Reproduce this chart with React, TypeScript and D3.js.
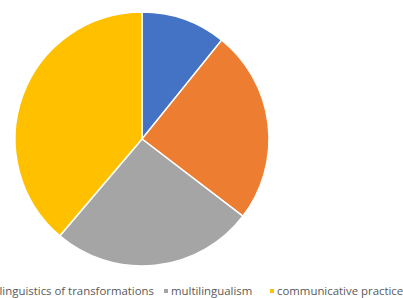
import * as d3 from "d3";
import { useEffect, useRef } from "react";

const categories = ["linguistics of transformations", "multilingualism", "communicative practices", "other"];
const values = [10.8, 24.6, 25.8, 38.8];
const colors = ["#4472C4", "#ED7D31", "#A5A5A5", "#FFC000"];

// legend entries as they appear in the picture (clipped at the edges)
const legendItems = [
	{ label: "linguistics of transformations", color: "#4472C4" },
	{ label: "multilingualism", color: "#A5A5A5" },
	{ label: "communicative practices", color: "#FFC000" }
];

const width = 403;
const height = 298;
const center = { x: 142, y: 139 };
const radius = 127;

const App = () => {
	const chartRef = useRef(null);

	useEffect(() => {
		const svg = d3.select(chartRef.current);
		svg.selectAll("*").remove();

		const pie = d3.pie<number>().sort(null).value(d => d);
		const arc = d3.arc<d3.PieArcDatum<number>>().innerRadius(0).outerRadius(radius);

		const g = svg.append("g").attr("transform", `translate(${center.x}, ${center.y})`);
		g.selectAll("path")
			.data(pie(values))
			.enter()
			.append("path")
			.attr("d", arc)
			.attr("fill", (d, i) => colors[i])
			.attr("stroke", "#fff")
			.attr("stroke-width", 1.5);

		// legend: first label is right-aligned, the rest start after it
		const legendY = 295;
		const starts = [154, 171, 277];
		const legend = svg.append("g")
			.style("font-family", "'Open Sans', sans-serif")
			.style("font-size", "11.4px")
			.attr("fill", "#595959");

		legendItems.forEach((item, i) => {
			const x = starts[i];
			legend.append("text")
				.attr("x", x)
				.attr("y", legendY)
				.attr("text-anchor", i === 0 ? "end" : "start")
				.text(item.label);
			if (i > 0) {
				legend.append("rect")
					.attr("x", x - 7)
					.attr("y", legendY - 6)
					.attr("width", 4)
					.attr("height", 4)
					.attr("fill", item.color);
			}
		});
	}, []);

	return (
		<svg
			ref={chartRef}
			width={width}
			height={height}
			style={{ position: "absolute", left: 0, top: 0, background: "#fff" }}
		></svg>
	);
};

export default App;
